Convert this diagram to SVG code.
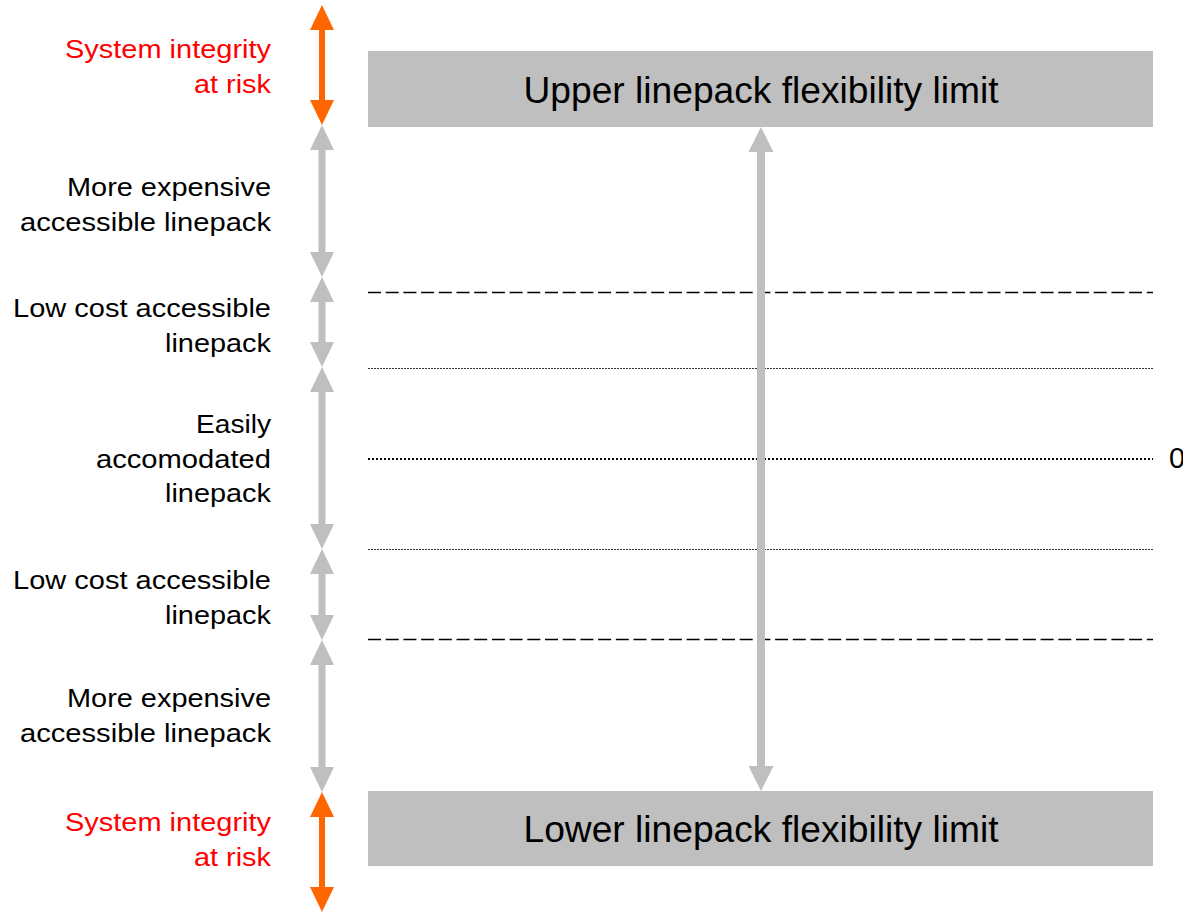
<svg xmlns="http://www.w3.org/2000/svg" width="1183" height="912" viewBox="0 0 1183 912">
<style>
.lbl{font-family:"Liberation Sans",Arial,sans-serif;font-size:25px;fill:#000;text-anchor:end}
.risk{fill:#ff0000}
.box{fill:#bfbfbf}
.boxt{font-family:"Liberation Sans",Arial,sans-serif;font-size:36px;fill:#000;text-anchor:middle}
.ga{fill:#bfbfbf}
.oa{fill:#ff6600}
.dash{stroke:#000;stroke-width:1.5;stroke-dasharray:13 4.7;fill:none}
.thin{stroke:#000;stroke-width:0.8;stroke-dasharray:2 1;fill:none}
.dot{stroke:#000;stroke-width:2;stroke-dasharray:2 2;fill:none}
</style>
<rect width="1183" height="912" fill="#fff"/>
<g id="upper-box">
<rect class="box" x="368" y="51" width="785" height="76"/>
<text class="boxt" x="761" y="102.5" textLength="475" lengthAdjust="spacingAndGlyphs">Upper linepack flexibility limit</text>
</g>
<g id="lower-box">
<rect class="box" x="368" y="791" width="785" height="75"/>
<text class="boxt" x="761" y="842" textLength="475" lengthAdjust="spacingAndGlyphs">Lower linepack flexibility limit</text>
</g>
<g id="lines">
<line class="dash" x1="368" y1="292.5" x2="1153" y2="292.5"/>
<line class="thin" x1="368" y1="368.5" x2="1153" y2="368.5"/>
<line class="dot" x1="368" y1="459" x2="1153" y2="459"/>
<line class="thin" x1="368" y1="549.5" x2="1153" y2="549.5"/>
<line class="dash" x1="368" y1="639.5" x2="1153" y2="639.5"/>
<text x="1169" y="468" font-family="Liberation Sans,Arial,sans-serif" font-size="29" fill="#000">0</text>
</g>
<g id="connectors">
<polygon class="oa" points="322,5 334,30 325,30 325,100 334,100 322,125 310,100 319,100 319,30 310,30"/>
<polygon class="ga" points="322,125 334,150 325.5,150 325.5,252 334,252 322,277 310,252 318.5,252 318.5,150 310,150"/>
<polygon class="ga" points="322,277 334,302 325.5,302 325.5,342 334,342 322,367 310,342 318.5,342 318.5,302 310,302"/>
<polygon class="ga" points="322,367 334,392 325.5,392 325.5,524 334,524 322,549 310,524 318.5,524 318.5,392 310,392"/>
<polygon class="ga" points="322,549 334,574 325.5,574 325.5,615 334,615 322,640 310,615 318.5,615 318.5,574 310,574"/>
<polygon class="ga" points="322,640 334,665 325.5,665 325.5,767 334,767 322,792 310,767 318.5,767 318.5,665 310,665"/>
<polygon class="oa" points="322,792 334,817 325,817 325,887 334,887 322,912 310,887 319,887 319,817 310,817"/>
<polygon class="ga" points="761,127 773.5,152 765,152 765,766 773.5,766 761,791 748.5,766 757,766 757,152 748.5,152"/>
</g>
<g id="labels">
<text class="lbl risk" x="271" y="57.5" textLength="206" lengthAdjust="spacingAndGlyphs">System integrity</text>
<text class="lbl risk" x="271" y="92.5" textLength="77" lengthAdjust="spacingAndGlyphs">at risk</text>
<text class="lbl" x="271" y="195.5" textLength="204" lengthAdjust="spacingAndGlyphs">More expensive</text>
<text class="lbl" x="271" y="230.5" textLength="251" lengthAdjust="spacingAndGlyphs">accessible linepack</text>
<text class="lbl" x="271" y="316.5" textLength="258" lengthAdjust="spacingAndGlyphs">Low cost accessible</text>
<text class="lbl" x="271" y="351.5" textLength="106" lengthAdjust="spacingAndGlyphs">linepack</text>
<text class="lbl" x="271" y="433" textLength="75" lengthAdjust="spacingAndGlyphs">Easily</text>
<text class="lbl" x="271" y="467.5" textLength="175" lengthAdjust="spacingAndGlyphs">accomodated</text>
<text class="lbl" x="271" y="502" textLength="106" lengthAdjust="spacingAndGlyphs">linepack</text>
<text class="lbl" x="271" y="588.5" textLength="258" lengthAdjust="spacingAndGlyphs">Low cost accessible</text>
<text class="lbl" x="271" y="623.5" textLength="106" lengthAdjust="spacingAndGlyphs">linepack</text>
<text class="lbl" x="271" y="706.5" textLength="204" lengthAdjust="spacingAndGlyphs">More expensive</text>
<text class="lbl" x="271" y="741.5" textLength="251" lengthAdjust="spacingAndGlyphs">accessible linepack</text>
<text class="lbl risk" x="271" y="830.5" textLength="206" lengthAdjust="spacingAndGlyphs">System integrity</text>
<text class="lbl risk" x="271" y="865.5" textLength="77" lengthAdjust="spacingAndGlyphs">at risk</text>
</g>
</svg>
